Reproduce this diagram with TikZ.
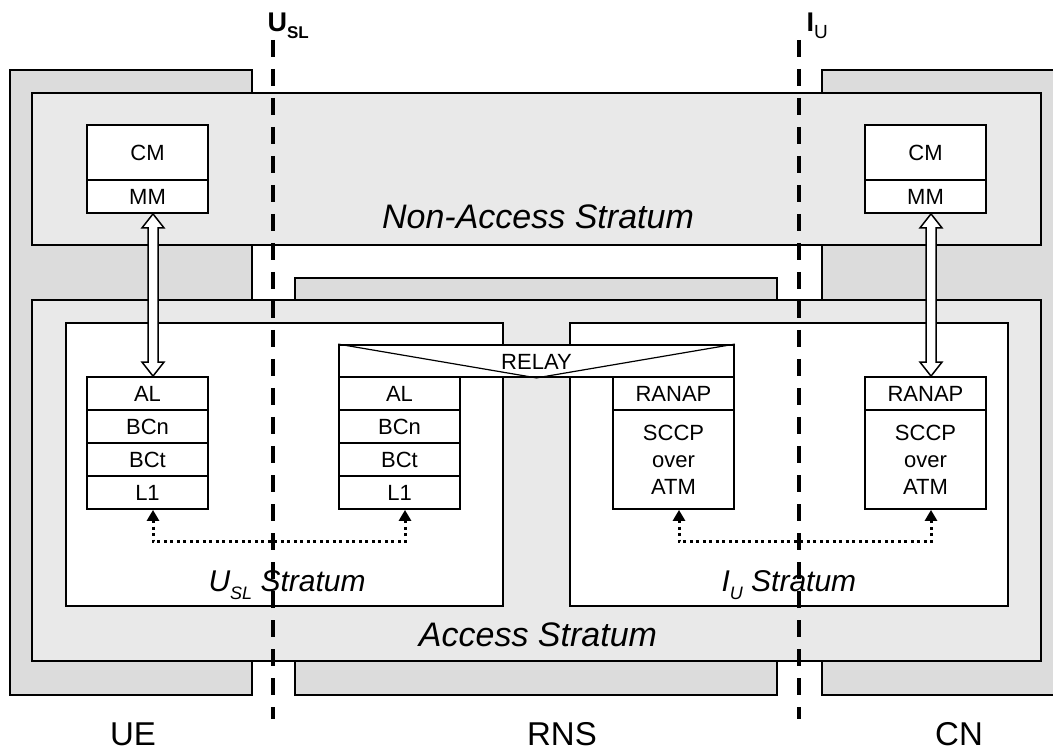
\documentclass[tikz,border=0pt]{standalone}
\usepackage{fontspec}
\setmainfont{Liberation Sans}
\usetikzlibrary{arrows.meta,calc}

\definecolor{blockgray}{RGB}{220,220,220}
\definecolor{stratgray}{RGB}{233,233,233}

\tikzset{
  netdomain/.style={draw, line width=2.6pt, fill=blockgray},
  stratum/.style={draw, line width=2.6pt, fill=stratgray},
  substratum/.style={draw, line width=2.6pt, fill=white},
  layer/.style={draw, line width=1.8pt, fill=white, minimum width=121pt,
    minimum height=33pt, inner sep=0pt, align=center,
    font=\fontsize{22}{27}\selectfont},
  hollowarrow/.style={draw, line width=1.5pt, fill=white, line join=miter},
  peerlink/.style={line width=3pt, dash pattern=on 3pt off 3.5pt,
    {Triangle[width=12pt,length=11pt]}-{Triangle[width=12pt,length=11pt]}},
  boundary/.style={line width=4pt, dash pattern=on 17pt off 12pt},
  biglabel/.style={font=\fontsize{33}{36}\selectfont, inner sep=0pt},
  stratlabel/.style={font=\fontsize{34}{36}\selectfont\itshape},
  sublabel/.style={font=\fontsize{30}{33}\selectfont\itshape, anchor=base west},
  ifacelabel/.style={font=\fontsize{27}{30}\selectfont\bfseries, anchor=base west}
}

\begin{document}
\begin{tikzpicture}[x=1pt,y=-1pt]
\useasboundingbox (0,0) rectangle (1053,751);

% network domains
\draw[netdomain] (10,70) rectangle (252,695);
\draw[netdomain] (295,278) rectangle (777,695);
\draw[netdomain] (822,70) rectangle (1070,695);

% strata
\draw[stratum] (32,93) rectangle (1041,245);
\draw[stratum] (32,300) rectangle (1041,661);
\draw[substratum] (66,323) rectangle (503,606);
\draw[substratum] (570,323) rectangle (1008,606);

% non-access stratum entities
\node[layer, minimum height=55pt] (ueCM) at (147.5,152.5) {CM};
\node[layer] (ueMM) at (147.5,196.5) {MM};
\node[layer, minimum height=55pt] (cnCM) at (925.5,152.5) {CM};
\node[layer] (cnMM) at (925.5,196.5) {MM};

% UE protocol stack
\node[layer] (ueAL)  at (147.5,393.5) {AL};
\node[layer] (ueBCn) at (147.5,426.5) {BCn};
\node[layer] (ueBCt) at (147.5,459.5) {BCt};
\node[layer] (ueL1)  at (147.5,492.5) {L1};

% RNS radio side stack
\node[layer] (rnAL)  at (399.5,393.5) {AL};
\node[layer] (rnBCn) at (399.5,426.5) {BCn};
\node[layer] (rnBCt) at (399.5,459.5) {BCt};
\node[layer] (rnL1)  at (399.5,492.5) {L1};

% RNS network side stack
\node[layer] (rnRANAP) at (673.5,393.5) {RANAP};
\node[layer, minimum height=99pt] (rnSCCP) at (673.5,459.5) {SCCP\\over\\ATM};

% CN stack
\node[layer] (cnRANAP) at (925.5,393.5) {RANAP};
\node[layer, minimum height=99pt] (cnSCCP) at (925.5,459.5) {SCCP\\over\\ATM};

% relay
\node[draw, line width=1.8pt, fill=white, minimum width=395pt,
      minimum height=32pt, inner sep=0pt] (relay) at (536.5,361) {};
\draw[line width=1.2pt] (relay.north west) -- (relay.south) -- (relay.north east);
\node[font=\fontsize{22}{24}\selectfont] (relayText) at (536.5,361.5) {RELAY};

% NAS signalling paths (hollow double arrows)
\draw[hollowarrow] let \p1=([xshift=5.5pt]ueMM.south), \p2=([xshift=5.5pt]ueAL.north) in
  (\x1,\y1) -- (\x1+11pt,\y1-14pt) -- (\x1+5pt,\y1-14pt) -- (\x1+5pt,\y2+14pt)
  -- (\x1+11pt,\y2+14pt) -- (\x1,\y2) -- (\x1-11pt,\y2+14pt) -- (\x1-5pt,\y2+14pt)
  -- (\x1-5pt,\y1-14pt) -- (\x1-11pt,\y1-14pt) -- cycle;
\draw[hollowarrow] let \p1=([xshift=5.5pt]cnMM.south), \p2=([xshift=5.5pt]cnRANAP.north) in
  (\x1,\y1) -- (\x1+11pt,\y1-14pt) -- (\x1+5pt,\y1-14pt) -- (\x1+5pt,\y2+14pt)
  -- (\x1+11pt,\y2+14pt) -- (\x1,\y2) -- (\x1-11pt,\y2+14pt) -- (\x1-5pt,\y2+14pt)
  -- (\x1-5pt,\y1-14pt) -- (\x1-11pt,\y1-14pt) -- cycle;

% peer-to-peer links
\draw[peerlink] ([xshift=5.5pt]ueL1.south) -- ++(0,32) -| ([xshift=5.5pt]rnL1.south);
\draw[peerlink] ([xshift=5.5pt]rnSCCP.south) -- ++(0,32) -| ([xshift=5.5pt]cnSCCP.south);

% stratum names
\node[stratlabel] (nasText) at (538,216.5) {Non-Access Stratum};
\node[stratlabel] (asText) at (538,635) {Access Stratum};
\node[sublabel] (uslText) at (205,591) {U\raisebox{-8pt}{\fontsize{18}{18}\selectfont SL} Stratum};
\node[sublabel] (iuText) at (718,591) {I\raisebox{-8pt}{\fontsize{18}{18}\selectfont U} Stratum};

% domain names
\node[biglabel] (ueText) at (133,734) {UE};
\node[biglabel] (rnsText) at (562,734) {RNS};
\node[biglabel] (cnText) at (959,734) {CN};

% interfaces
\coordinate (uslTop) at (273,40);
\coordinate (uslBot) at (273,719);
\coordinate (iuTop) at (799,40);
\coordinate (iuBot) at (799,719);
\draw[boundary] (uslTop) -- (uslBot);
\draw[boundary] (iuTop) -- (iuBot);
\node[ifacelabel] (uslName) at (264,32) {U\raisebox{-7pt}{\fontsize{17}{17}\selectfont SL}};
\node[ifacelabel] (iuName) at (803,32) {I\raisebox{-7pt}{\fontsize{19}{19}\mdseries\selectfont U}};
\end{tikzpicture}
\end{document}
